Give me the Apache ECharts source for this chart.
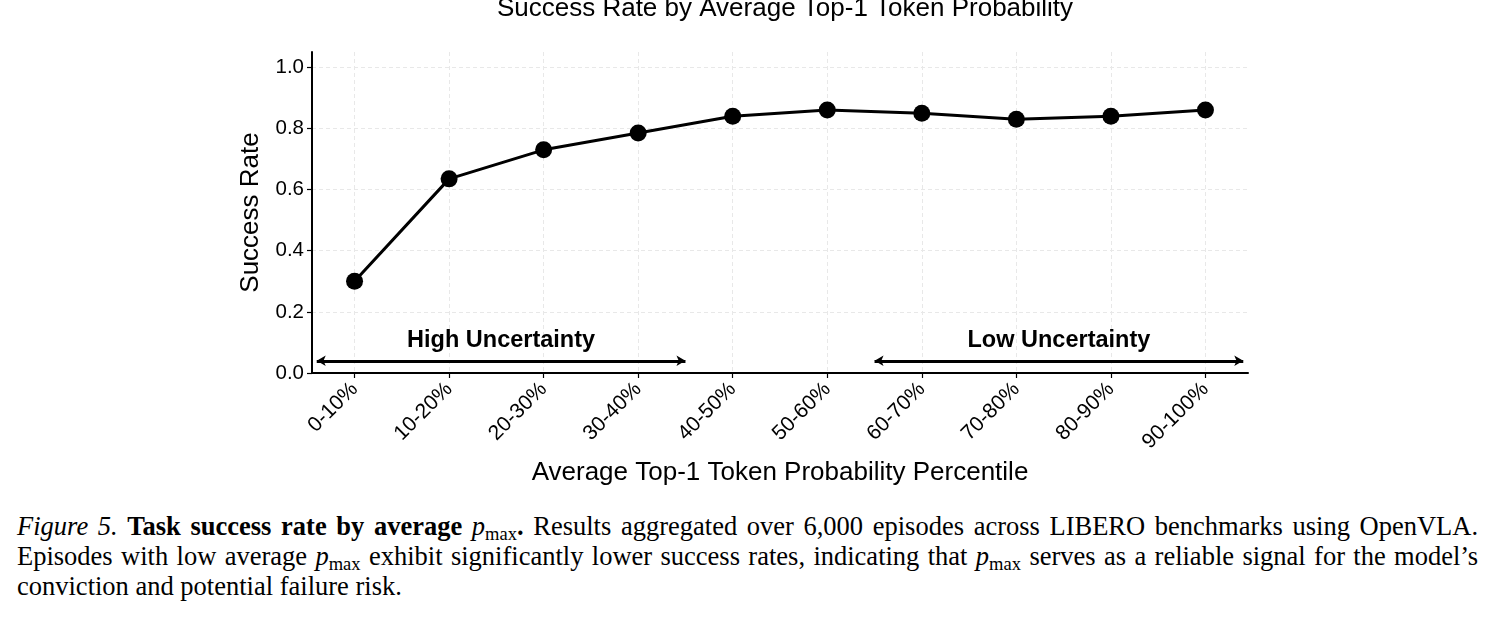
<!DOCTYPE html>
<html>
<head>
<meta charset="utf-8">
<script src="https://cdn.jsdelivr.net/npm/echarts@6/dist/echarts.min.js"></script>
<style>
  html, body { margin: 0; padding: 0; background: #fff; }
  #chart { position: absolute; left: 0; top: 0; width: 1496px; height: 495px; }
  .caption {
    position: absolute; left: 17px; top: 511px; width: 1461px;
    font-family: "Liberation Serif", "DejaVu Serif", serif;
    font-size: 26.5px; line-height: 30px; color: #000;
  }
  .caption div { text-align: justify; text-align-last: justify; white-space: nowrap; }
  .caption div.last { text-align-last: left; }
  .caption sub { font-size: 0.7em; vertical-align: -0.28em; line-height: 0; font-style: normal; }
</style>
</head>
<body>
<div id="chart"></div>
<div class="caption">
  <div><i>Figure 5.</i> <b>Task success rate by average <i style="font-weight:normal">p</i><sub style="font-weight:normal">max</sub>.</b> Results aggregated over 6,000 episodes across LIBERO benchmarks using OpenVLA.</div>
  <div>Episodes with low average <i>p</i><sub>max</sub> exhibit significantly lower success rates, indicating that <i>p</i><sub>max</sub> serves as a reliable signal for the model’s</div>
  <div class="last">conviction and potential failure risk.</div>
</div>
<script>
const categories = ['0-10%', '10-20%', '20-30%', '30-40%', '40-50%', '50-60%', '60-70%', '70-80%', '80-90%', '90-100%']
const successRate = [0.30, 0.635, 0.73, 0.785, 0.84, 0.86, 0.85, 0.83, 0.84, 0.86]
const yTicks = [0, 0.2, 0.4, 0.6, 0.8, 1.0]

// uncertainty bands: arrow span in category units
const highSpan = [-0.4, 3.5]
const lowSpan = [5.5, 9.4]
const arrowY = 0.04
const bandLabelY = 0.105

const catIdx = categories.map((_, i) => i)
const font = '"Liberation Sans", Arial, sans-serif'

const chart = echarts.init(document.getElementById('chart'))

chart.setOption({
  animation: false,
  textStyle: { fontFamily: font, color: '#000' },
  title: {
    text: 'Success Rate by Average Top-1 Token Probability',
    left: 780, textAlign: 'center', top: -9,
    textStyle: { fontFamily: font, fontSize: 26, fontWeight: 'normal', color: '#000' }
  },
  grid: { left: 312, top: 52, width: 936, height: 321, containLabel: false },
  xAxis: {
    type: 'value', min: -0.45, max: 9.45,
    name: 'Average Top-1 Token Probability Percentile',
    nameLocation: 'middle', nameGap: 86,
    nameTextStyle: { fontFamily: font, fontSize: 26, color: '#000' },
    axisLine: { show: true, onZero: false, lineStyle: { color: '#000', width: 2 } },
    axisTick: { show: true, length: 5, customValues: catIdx, lineStyle: { color: '#000', width: 1.2 } },
    axisLabel: {
      customValues: catIdx, rotate: 45, margin: 13,
      fontFamily: font, fontSize: 21, color: '#000',
      formatter: (v) => categories[Math.round(v)] || ''
    },
    splitLine: { show: true, lineStyle: { color: '#e8e8e8', type: [4, 3], width: 1 } }
  },
  yAxis: {
    type: 'value', min: 0, max: 1.05,
    name: 'Success Rate',
    nameLocation: 'middle', nameGap: 48, nameRotate: 90,
    nameTextStyle: { fontFamily: font, fontSize: 26, color: '#000' },
    axisLine: { show: true, onZero: false, lineStyle: { color: '#000', width: 2 } },
    axisTick: { show: true, length: 5, customValues: yTicks, lineStyle: { color: '#000', width: 1.2 } },
    axisLabel: {
      customValues: yTicks, margin: 8,
      fontFamily: font, fontSize: 20.5, color: '#000',
      formatter: (v) => v.toFixed(1)
    },
    splitLine: { show: true, lineStyle: { color: '#e8e8e8', type: [4, 3], width: 1 } }
  },
  series: [
    {
      type: 'line',
      data: catIdx.map((i) => [i, successRate[i]]),
      symbol: 'circle', symbolSize: 17,
      lineStyle: { color: '#000', width: 3 },
      itemStyle: { color: '#000' },
      z: 5,
      markLine: {
        silent: true,
        symbol: ['arrow', 'arrow'], symbolSize: [8, 9],
        lineStyle: { color: '#000', width: 3, type: 'solid' },
        label: { show: false },
        data: [
          [{ coord: [highSpan[0], arrowY] }, { coord: [highSpan[1], arrowY] }],
          [{ coord: [lowSpan[0], arrowY] }, { coord: [lowSpan[1], arrowY] }]
        ]
      },
      markPoint: {
        silent: true,
        symbol: 'circle', symbolSize: 0,
        label: {
          show: true, position: 'inside',
          fontFamily: font, fontSize: 23.5, fontWeight: 'bold', color: '#000',
          formatter: (p) => p.name
        },
        data: [
          { name: 'High Uncertainty', coord: [(highSpan[0] + highSpan[1]) / 2, bandLabelY] },
          { name: 'Low Uncertainty', coord: [(lowSpan[0] + lowSpan[1]) / 2, bandLabelY] }
        ]
      }
    }
  ]
})
</script>
</body>
</html>
